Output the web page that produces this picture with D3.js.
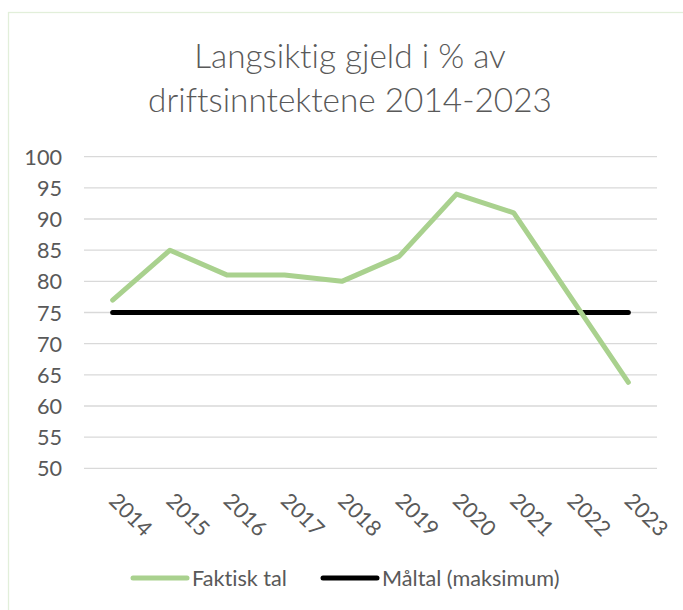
<!DOCTYPE html>
<html>
<head>
<meta charset="utf-8">
<script src="https://cdn.jsdelivr.net/npm/d3@7"></script>
<style>
  html, body { margin: 0; padding: 0; background: #ffffff; }
  svg { display: block; }
  svg text { font-variant-ligatures: none; font-feature-settings: "liga" 0, "clig" 0; }
</style>
</head>
<body>
<svg id="chart" width="683" height="610"></svg>
<script>
// ---- data ----
const years = ["2014","2015","2016","2017","2018","2019","2020","2021","2022","2023"];
const faktiskTal = [77, 85, 81, 81, 80, 84, 94, 91, 77.4, 63.8];
const maltal = [75, 75, 75, 75, 75, 75, 75, 75, 75, 75];
const yTicks = [50, 55, 60, 65, 70, 75, 80, 85, 90, 95, 100];
const titleLines = ["Langsiktig gjeld i % av", "driftsinntektene 2014-2023"];
const seriesNames = ["Faktisk tal", "Måltal (maksimum)"];

const FONT = "Lato, 'Open Sans', sans-serif";
const TEXT = "#595959";
const GREEN = "#a9d18e";
const BLACK = "#000000";
const GRID = "#d9d9d9";

const svg = d3.select("#chart");

// font-size fitting helper (match the width of the original text)
function fitSize(str, targetW, weight) {
  const t = svg.append("text").attr("font-family", FONT).attr("font-weight", weight || 400)
    .attr("font-size", 100).text(str);
  const w = t.node().getComputedTextLength();
  t.remove();
  return 100 * targetW / w;
}
const titleSize = fitSize(titleLines[1], 404, 300);
const labelSize = fitSize(seriesNames[0], 95);

// chart border
svg.append("rect")
  .attr("x", 8.5).attr("y", 12.5)
  .attr("width", 700).attr("height", 700)
  .attr("fill", "#ffffff")
  .attr("stroke", "#e2efda").attr("stroke-width", 1.3);

// plot area
const plot = { left: 84, right: 657, top: 156.7, bottom: 468.3 };

const x = d3.scaleBand().domain(years).range([plot.left, plot.right]);
const y = d3.scaleLinear().domain([50, 100]).range([plot.bottom, plot.top]);
const cx = d => x(d) + x.bandwidth() / 2;

// gridlines
svg.append("g").selectAll("line").data(yTicks).join("line")
  .attr("x1", plot.left).attr("x2", plot.right)
  .attr("y1", d => y(d)).attr("y2", d => y(d))
  .attr("stroke", GRID).attr("stroke-width", 1.3);

// y axis labels
const yAxis = d3.axisLeft(y).tickValues(yTicks).tickSize(0).tickPadding(0);
const gy = svg.append("g").attr("transform", `translate(${plot.left - 22},0)`).call(yAxis);
gy.select(".domain").remove();
gy.selectAll("text")
  .attr("font-family", FONT).attr("font-size", labelSize)
  .attr("fill", TEXT).attr("dy", "0.35em");

// x axis labels (rotated 45°)
const xAxis = d3.axisBottom(x).tickSize(0).tickPadding(0);
const gx = svg.append("g").attr("transform", `translate(0,${plot.bottom})`).call(xAxis);
gx.select(".domain").remove();
gx.selectAll(".tick text")
  .attr("font-family", FONT).attr("font-size", labelSize)
  .attr("fill", TEXT)
  .attr("text-anchor", "start")
  .attr("x", 0).attr("y", 0).attr("dy", 0)
  .attr("transform", "translate(-5,34) rotate(45)");

// lines
const line = d3.line().x((d, i) => cx(years[i])).y(d => y(d));

svg.append("path").datum(maltal)
  .attr("d", line)
  .attr("fill", "none").attr("stroke", BLACK)
  .attr("stroke-width", 5).attr("stroke-linecap", "round").attr("stroke-linejoin", "round");

svg.append("path").datum(faktiskTal)
  .attr("d", line)
  .attr("fill", "none").attr("stroke", GREEN)
  .attr("stroke-width", 5).attr("stroke-linecap", "round").attr("stroke-linejoin", "round");

// title
const title = svg.append("text")
  .attr("font-family", FONT).attr("font-weight", 300).attr("font-size", titleSize)
  .attr("fill", TEXT).attr("text-anchor", "middle");
title.selectAll("tspan").data(titleLines).join("tspan")
  .attr("x", 350)
  .attr("y", (d, i) => 68 + i * 44)
  .text(d => d);

// legend
const legendItems = [
  { name: seriesNames[0], color: GREEN, x0: 133 },
  { name: seriesNames[1], color: BLACK, x0: 323 }
];
const lg = svg.append("g").selectAll("g").data(legendItems).join("g");
lg.append("line")
  .attr("x1", d => d.x0).attr("x2", d => d.x0 + 54)
  .attr("y1", 578).attr("y2", 578)
  .attr("stroke", d => d.color).attr("stroke-width", 5).attr("stroke-linecap", "round");
lg.append("text")
  .attr("x", d => d.x0 + 59).attr("y", 578).attr("dy", "0.35em")
  .attr("font-family", FONT).attr("font-size", labelSize)
  .attr("fill", TEXT)
  .text(d => d.name);
</script>
</body>
</html>
